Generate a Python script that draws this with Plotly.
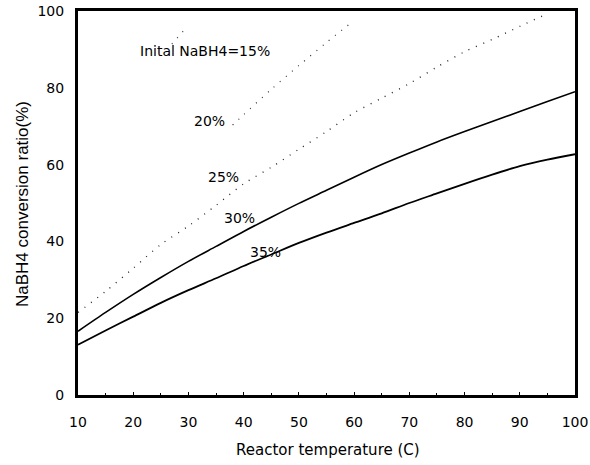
import plotly.graph_objects as go

# Reactor temperature (C)
temp_solid = [10, 15, 20, 25, 30, 35, 40, 45, 50, 55, 60, 65, 70, 75, 80, 85, 90, 95, 100]
conv_30 = [16.6, 21.5, 26.2, 30.6, 34.8, 38.7, 42.6, 46.3, 49.9, 53.3, 56.7, 60.0, 63.0, 65.9, 68.6, 71.2, 73.8, 76.4, 79.0]
conv_35 = [13.1, 16.8, 20.4, 24.0, 27.3, 30.4, 33.6, 36.6, 39.6, 42.3, 44.8, 47.3, 50.0, 52.5, 55.0, 57.4, 59.6, 61.3, 62.7]

temp_25 = [10, 15, 20, 25, 30, 35, 40, 45, 50, 55, 60, 65, 70, 75, 80, 85, 90, 95]
conv_25 = [21.5, 27.0, 33.0, 39.2, 44.0, 49.4, 55.0, 59.3, 64.0, 68.6, 73.5, 77.3, 81.1, 85.4, 89.4, 92.6, 96.0, 99.3]

temp_20 = [38, 40, 45, 50, 55, 59]
conv_20 = [70.3, 73.0, 79.6, 85.8, 91.8, 96.4]

temp_15 = [27.0, 28.1, 29.2]
conv_15 = [91.4, 93.2, 95.0]

x_ticks = [10, 20, 30, 40, 50, 60, 70, 80, 90, 100]
y_ticks = [0, 20, 40, 60, 80, 100]

labels_text = ["Inital NaBH4=15%", "20%", "25%", "30%", "35%"]
labels_x = [33.0, 33.9, 36.3, 39.3, 43.9]
labels_y = [89.6, 71.3, 56.7, 46.2, 37.3]

FONT = "DejaVu Sans"

fig = go.Figure()
dot = "1px,7px"
fig.add_trace(go.Scatter(x=temp_15, y=conv_15, mode="lines",
                         line=dict(color="#444", width=1.2, dash=dot), showlegend=False))
fig.add_trace(go.Scatter(x=temp_20, y=conv_20, mode="lines",
                         line=dict(color="#333", width=1.2, dash=dot, shape="spline", smoothing=0.8),
                         showlegend=False))
fig.add_trace(go.Scatter(x=temp_25, y=conv_25, mode="lines",
                         line=dict(color="#222", width=1.3, dash=dot, shape="spline", smoothing=0.8),
                         showlegend=False))
fig.add_trace(go.Scatter(x=temp_solid, y=conv_30, mode="lines",
                         line=dict(color="black", width=1.6, shape="spline", smoothing=0.8),
                         showlegend=False))
fig.add_trace(go.Scatter(x=temp_solid, y=conv_35, mode="lines",
                         line=dict(color="black", width=1.8, shape="spline", smoothing=0.8),
                         showlegend=False))

for t, lx, ly in zip(labels_text, labels_x, labels_y):
    fig.add_annotation(x=lx, y=ly, text=t, showarrow=False,
                       xanchor="center", yanchor="middle",
                       font=dict(family=FONT, size=14, color="black"))

fig.add_annotation(xref="paper", yref="paper", x=0.503, y=-0.143,
                   xanchor="center", yanchor="middle",
                   text="Reactor temperature (C)", showarrow=False,
                   font=dict(family=FONT, size=15, color="black"))
fig.add_annotation(xref="paper", yref="paper", x=-0.113, y=0.497,
                   xanchor="center", yanchor="middle",
                   text="NaBH4 conversion ratio(%)", showarrow=False, textangle=-90,
                   font=dict(family="Liberation Sans", size=17, color="black"))

fig.update_layout(
    width=590, height=465,
    margin=dict(l=78, r=15, t=11, b=70, autoexpand=False),
    paper_bgcolor="white", plot_bgcolor="white",
    font=dict(family=FONT, size=14, color="black"),
)
fig.update_xaxes(range=[10, 100], tickvals=x_ticks, showgrid=False, zeroline=False,
                 automargin=False,
                 showline=True, linecolor="black", linewidth=3, mirror=True,
                 ticks="inside", ticklen=3, tickwidth=1, tickcolor="black",
                 minor=dict(dtick=5, ticks="inside", ticklen=2, tickcolor="black"),
                 ticklabelstandoff=12,
                 tickfont=dict(family=FONT, size=14, color="black"))
fig.update_yaxes(range=[0, 100], tickvals=y_ticks, showgrid=False, zeroline=False,
                 automargin=False,
                 showline=True, linecolor="black", linewidth=3, mirror=True,
                 ticks="", ticklabelstandoff=8,
                 tickfont=dict(family=FONT, size=14, color="black"))

fig.write_html("out.html", config={"displayModeBar": False},
               post_script="document.body.style.margin='0';document.body.style.padding='0';")
